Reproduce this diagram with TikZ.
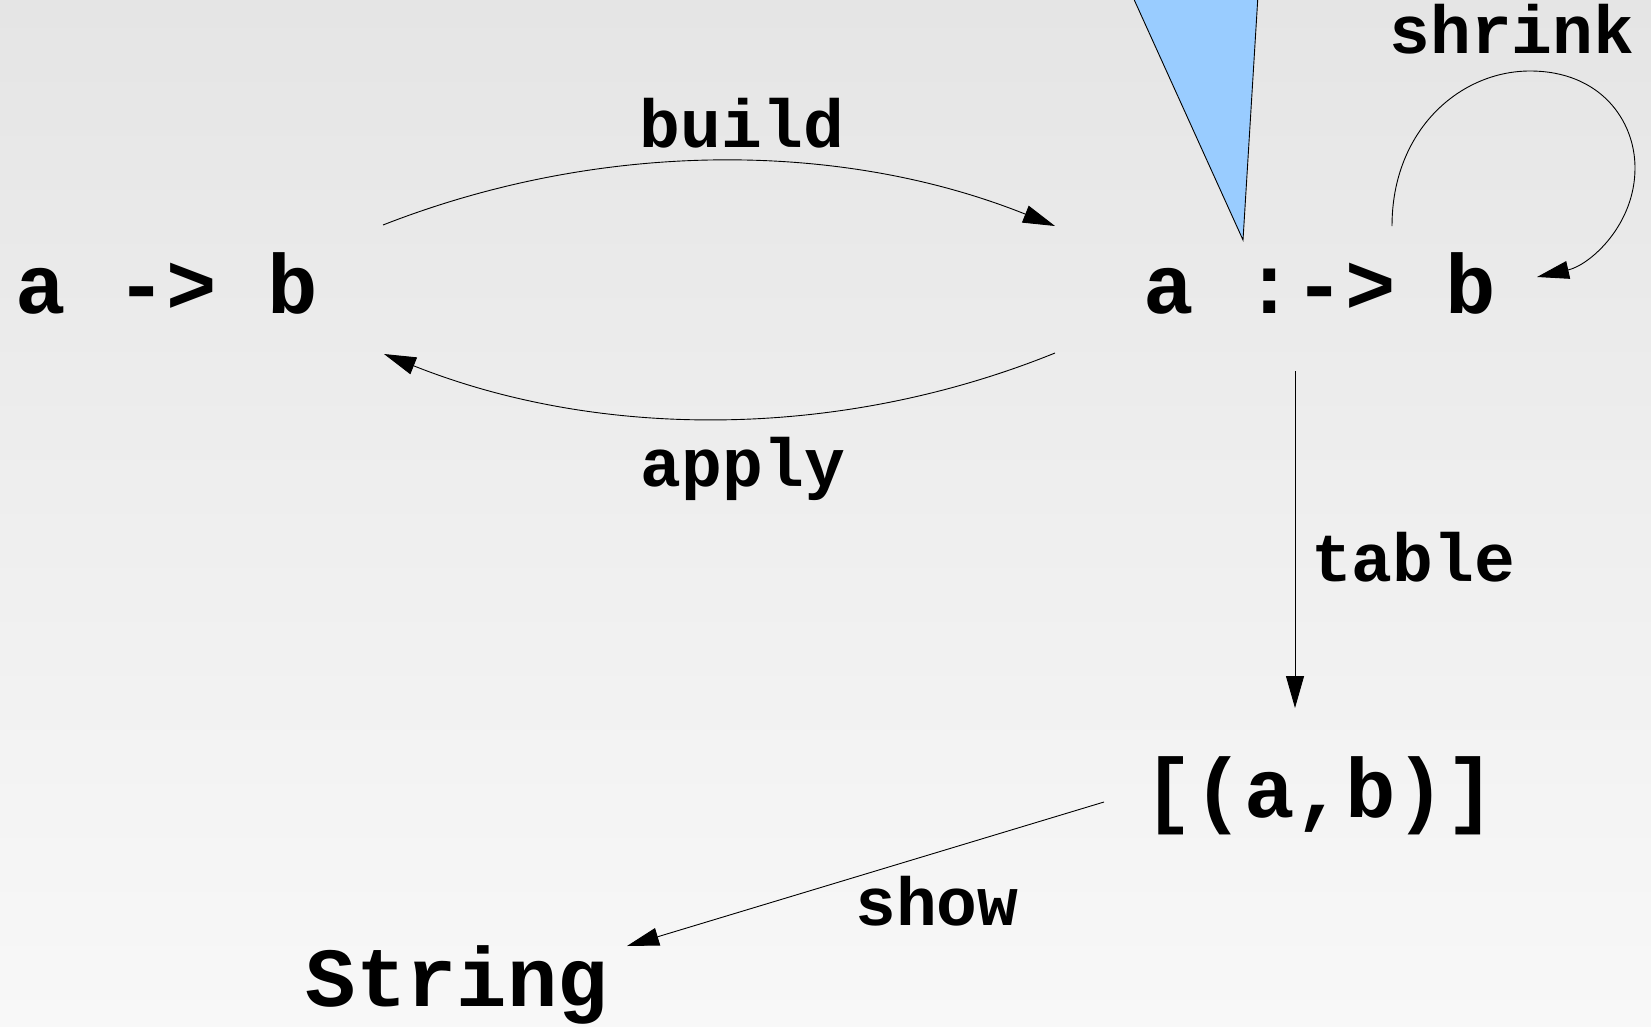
\documentclass[tikz,border=0pt]{standalone}
\usepackage{fontspec}
\setmonofont{Liberation Mono}
\usetikzlibrary{arrows.meta,calc}
\definecolor{bgtop}{HTML}{E5E5E5}
\definecolor{bgbot}{HTML}{F8F8F8}
\definecolor{triblue}{HTML}{99CCFF}
\tikzset{
  typenode/.style={anchor=base,inner sep=0pt,font=\ttfamily\bfseries\fontsize{84}{84}\selectfont},
  edgelabel/.style={anchor=base,inner sep=0pt,font=\ttfamily\bfseries\fontsize{68}{68}\selectfont},
  conn/.style={line width=0.9pt,-{Triangle[length=32pt,width=18pt]}},
}
\begin{document}
\begin{tikzpicture}[x=1pt,y=-1pt]
\useasboundingbox (0,0) rectangle (1651,1026);
\fill[top color=bgtop,bottom color=bgbot] (0,0) rectangle (1651,1026);
% blue triangle
\filldraw[fill=triblue,draw=black,line width=0.9pt] (1132,-5) -- (1243,240) -- (1258,-5) -- cycle;
% nodes
\node[typenode] (ab) at (167,313) {a -> b};
\node[typenode] (ib) at (1320,313) {a :-> b};
\node[typenode] (lst) at (1320,817) {[(a,b)]};
\node[typenode] (str) at (457,1006) {String};
% labels
\node[edgelabel] (lbuild) at (742,147) {build};
\node[edgelabel] (lapply) at (743,486) {apply};
\node[edgelabel] (lshrink) at (1512,53) {shrink};
\node[edgelabel] (ltable) at (1413,581) {table};
\node[edgelabel] (lshow) at (937,925) {show};
% connectors
\draw[conn] ($(ab.base)+(216,-88)$) .. controls (600,140) and (840,140) .. ($(ib.base)+(-265,-87)$);
\draw[conn] ($(ib.base)+(-265,40)$) .. controls (840,440) and (600,440) .. ($(ab.base)+(217,41)$);
\draw[conn] ($(ib.base)+(-25,58)$) -- ($(lst.base)+(-25,-109)$);
\draw[conn] ($(lst.base)+(-216,-15)$) -- ($(str.base)+(170,-60)$);
\draw[conn] ($(ib.base)+(72,-87)$) .. controls (1392,130) and (1460,71) .. (1530,71)
  .. controls (1600,71) and (1635,120) .. (1635,168)
  .. controls (1635,225) and (1590,265) .. ($(ib.base)+(217,-36)$);
\end{tikzpicture}
\end{document}
